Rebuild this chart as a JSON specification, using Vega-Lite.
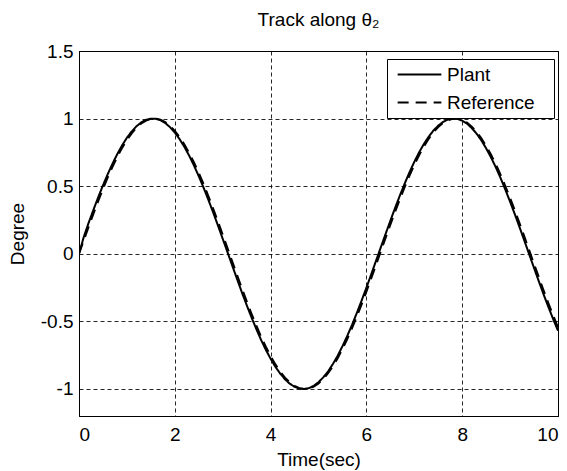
{
  "$schema": "https://vega.github.io/schema/vega-lite/v6.json",
  "width": 479,
  "height": 365,
  "autosize": {"type": "none"},
  "padding": {"left": 79, "top": 51, "right": 9, "bottom": 55},
  "background": "white",
  "title": {
    "text": "Track along θ₂",
    "font": "Liberation Sans",
    "fontSize": 19,
    "fontWeight": "normal",
    "color": "black",
    "offset": 12
  },
  "data": {
    "values": [
      {"t": 0.0, "Plant": 0.000, "Reference": 0.000},
      {"t": 0.1, "Plant": 0.125, "Reference": 0.0998},
      {"t": 0.2, "Plant": 0.228, "Reference": 0.1987},
      {"t": 0.3, "Plant": 0.324, "Reference": 0.2955},
      {"t": 0.4, "Plant": 0.417, "Reference": 0.3894},
      {"t": 0.5, "Plant": 0.506, "Reference": 0.4794},
      {"t": 0.6, "Plant": 0.589, "Reference": 0.5646},
      {"t": 0.7, "Plant": 0.667, "Reference": 0.6442},
      {"t": 0.8, "Plant": 0.738, "Reference": 0.7174},
      {"t": 0.9, "Plant": 0.802, "Reference": 0.7833},
      {"t": 1.0, "Plant": 0.858, "Reference": 0.8415},
      {"t": 1.1, "Plant": 0.905, "Reference": 0.8912},
      {"t": 1.2, "Plant": 0.943, "Reference": 0.9320},
      {"t": 1.3, "Plant": 0.972, "Reference": 0.9636},
      {"t": 1.4, "Plant": 0.991, "Reference": 0.9854},
      {"t": 1.5, "Plant": 0.999, "Reference": 0.9975},
      {"t": 1.6, "Plant": 0.999, "Reference": 0.9996},
      {"t": 1.7, "Plant": 0.988, "Reference": 0.9917},
      {"t": 1.8, "Plant": 0.967, "Reference": 0.9738},
      {"t": 1.9, "Plant": 0.937, "Reference": 0.9463},
      {"t": 2.0, "Plant": 0.897, "Reference": 0.9093},
      {"t": 2.1, "Plant": 0.848, "Reference": 0.8632},
      {"t": 2.2, "Plant": 0.791, "Reference": 0.8085},
      {"t": 2.3, "Plant": 0.726, "Reference": 0.7457},
      {"t": 2.4, "Plant": 0.653, "Reference": 0.6755},
      {"t": 2.5, "Plant": 0.574, "Reference": 0.5985},
      {"t": 2.6, "Plant": 0.490, "Reference": 0.5155},
      {"t": 2.7, "Plant": 0.400, "Reference": 0.4274},
      {"t": 2.8, "Plant": 0.307, "Reference": 0.3350},
      {"t": 2.9, "Plant": 0.210, "Reference": 0.2392},
      {"t": 3.0, "Plant": 0.111, "Reference": 0.1411},
      {"t": 3.1, "Plant": 0.012, "Reference": 0.0416},
      {"t": 3.2, "Plant": -0.088, "Reference": -0.0584},
      {"t": 3.3, "Plant": -0.187, "Reference": -0.1577},
      {"t": 3.4, "Plant": -0.285, "Reference": -0.2555},
      {"t": 3.5, "Plant": -0.379, "Reference": -0.3508},
      {"t": 3.6, "Plant": -0.469, "Reference": -0.4425},
      {"t": 3.7, "Plant": -0.555, "Reference": -0.5298},
      {"t": 3.8, "Plant": -0.636, "Reference": -0.6119},
      {"t": 3.9, "Plant": -0.710, "Reference": -0.6878},
      {"t": 4.0, "Plant": -0.776, "Reference": -0.7568},
      {"t": 4.1, "Plant": -0.836, "Reference": -0.8183},
      {"t": 4.2, "Plant": -0.886, "Reference": -0.8716},
      {"t": 4.3, "Plant": -0.928, "Reference": -0.9162},
      {"t": 4.4, "Plant": -0.961, "Reference": -0.9516},
      {"t": 4.5, "Plant": -0.984, "Reference": -0.9775},
      {"t": 4.6, "Plant": -0.997, "Reference": -0.9937},
      {"t": 4.7, "Plant": -1.000, "Reference": -0.9999},
      {"t": 4.8, "Plant": -0.994, "Reference": -0.9962},
      {"t": 4.9, "Plant": -0.977, "Reference": -0.9825},
      {"t": 5.0, "Plant": -0.950, "Reference": -0.9589},
      {"t": 5.1, "Plant": -0.914, "Reference": -0.9258},
      {"t": 5.2, "Plant": -0.870, "Reference": -0.8835},
      {"t": 5.3, "Plant": -0.816, "Reference": -0.8323},
      {"t": 5.4, "Plant": -0.754, "Reference": -0.7728},
      {"t": 5.5, "Plant": -0.684, "Reference": -0.7055},
      {"t": 5.6, "Plant": -0.608, "Reference": -0.6313},
      {"t": 5.7, "Plant": -0.526, "Reference": -0.5507},
      {"t": 5.8, "Plant": -0.438, "Reference": -0.4646},
      {"t": 5.9, "Plant": -0.346, "Reference": -0.3739},
      {"t": 6.0, "Plant": -0.251, "Reference": -0.2794},
      {"t": 6.1, "Plant": -0.153, "Reference": -0.1822},
      {"t": 6.2, "Plant": -0.053, "Reference": -0.0831},
      {"t": 6.3, "Plant": 0.047, "Reference": 0.0168},
      {"t": 6.4, "Plant": 0.146, "Reference": 0.1165},
      {"t": 6.5, "Plant": 0.244, "Reference": 0.2151},
      {"t": 6.6, "Plant": 0.340, "Reference": 0.3115},
      {"t": 6.7, "Plant": 0.432, "Reference": 0.4048},
      {"t": 6.8, "Plant": 0.520, "Reference": 0.4941},
      {"t": 6.9, "Plant": 0.603, "Reference": 0.5784},
      {"t": 7.0, "Plant": 0.680, "Reference": 0.6570},
      {"t": 7.1, "Plant": 0.750, "Reference": 0.7290},
      {"t": 7.2, "Plant": 0.812, "Reference": 0.7937},
      {"t": 7.3, "Plant": 0.866, "Reference": 0.8504},
      {"t": 7.4, "Plant": 0.912, "Reference": 0.8987},
      {"t": 7.5, "Plant": 0.948, "Reference": 0.9380},
      {"t": 7.6, "Plant": 0.975, "Reference": 0.9679},
      {"t": 7.7, "Plant": 0.993, "Reference": 0.9882},
      {"t": 7.8, "Plant": 0.999, "Reference": 0.9985},
      {"t": 7.9, "Plant": 0.998, "Reference": 0.9989},
      {"t": 8.0, "Plant": 0.985, "Reference": 0.9894},
      {"t": 8.1, "Plant": 0.963, "Reference": 0.9699},
      {"t": 8.2, "Plant": 0.930, "Reference": 0.9407},
      {"t": 8.3, "Plant": 0.889, "Reference": 0.9022},
      {"t": 8.4, "Plant": 0.839, "Reference": 0.8546},
      {"t": 8.5, "Plant": 0.780, "Reference": 0.7985},
      {"t": 8.6, "Plant": 0.714, "Reference": 0.7344},
      {"t": 8.7, "Plant": 0.641, "Reference": 0.6630},
      {"t": 8.8, "Plant": 0.561, "Reference": 0.5849},
      {"t": 8.9, "Plant": 0.475, "Reference": 0.5010},
      {"t": 9.0, "Plant": 0.385, "Reference": 0.4121},
      {"t": 9.1, "Plant": 0.291, "Reference": 0.3191},
      {"t": 9.2, "Plant": 0.194, "Reference": 0.2229},
      {"t": 9.3, "Plant": 0.095, "Reference": 0.1245},
      {"t": 9.4, "Plant": -0.005, "Reference": 0.0248},
      {"t": 9.5, "Plant": -0.105, "Reference": -0.0752},
      {"t": 9.6, "Plant": -0.204, "Reference": -0.1743},
      {"t": 9.7, "Plant": -0.301, "Reference": -0.2718},
      {"t": 9.8, "Plant": -0.394, "Reference": -0.3665},
      {"t": 9.9, "Plant": -0.484, "Reference": -0.4575},
      {"t": 10.0, "Plant": -0.569, "Reference": -0.5440}
    ]
  },
  "transform": [{"fold": ["Plant", "Reference"], "as": ["series", "value"]}],
  "mark": {"type": "line", "color": "black", "strokeWidth": 2, "clip": true},
  "encoding": {
    "x": {
      "field": "t",
      "type": "quantitative",
      "scale": {"domain": [0, 10], "nice": false, "zero": false},
      "axis": {"values": [0, 2, 4, 6, 8, 10], "title": "Time(sec)", "labelPadding": 9, "titlePadding": 6}
    },
    "y": {
      "field": "value",
      "type": "quantitative",
      "scale": {"domain": [-1.2, 1.5], "nice": false, "zero": false},
      "axis": {
        "values": [-1, -0.5, 0, 0.5, 1, 1.5],
        "title": "Degree",
        "labelPadding": 6,
        "titlePadding": 13,
        "labelExpr": "datum.value < 0 ? '-' + format(-datum.value, '') : format(datum.value, '')"
      }
    },
    "strokeDash": {
      "field": "series",
      "type": "nominal",
      "scale": {"domain": ["Plant", "Reference"], "range": [[1, 0], [11, 7]]},
      "legend": {
        "title": null,
        "orient": "none",
        "legendX": 308,
        "legendY": 8,
        "fillColor": "white",
        "strokeColor": "black",
        "padding": 5,
        "symbolType": "M-2.3,0H2.3",
        "symbolSize": 361,
        "symbolOffset": 17,
        "symbolStrokeWidth": 2,
        "symbolStrokeColor": "black",
        "labelFont": "Liberation Sans",
        "labelFontSize": 19,
        "labelColor": "black",
        "labelOffset": 17,
        "rowPadding": 7,
        "labelExpr": "datum.label + '\u2800'"
      }
    }
  },
  "config": {
    "view": {"stroke": "black", "strokeWidth": 1},
    "axis": {
      "labelFont": "Liberation Sans",
      "labelFontSize": 19,
      "labelColor": "black",
      "titleFont": "Liberation Sans",
      "titleFontSize": 19,
      "titleFontWeight": "normal",
      "titleColor": "black",
      "ticks": false,
      "domainColor": "black",
      "grid": true,
      "gridColor": "black",
      "gridDash": [4, 3],
      "gridWidth": 1,
      "gridOpacity": 0.85
    }
  }
}
